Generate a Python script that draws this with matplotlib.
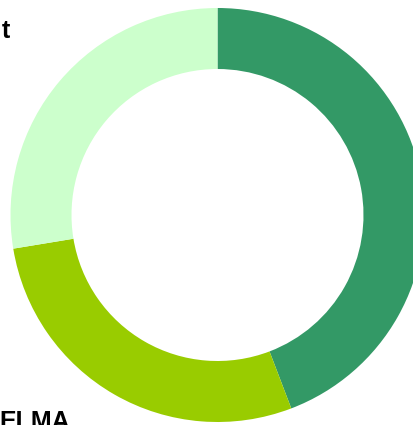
import matplotlib
matplotlib.use("Agg")
import matplotlib.pyplot as plt

labels = ["", "ELMA", "t"]
values = [44.2, 28.2, 27.6]
colors = ["#339966", "#99cc00", "#ccffcc"]

W, H = 414, 425
fig = plt.figure(figsize=(W / 100, H / 100), dpi=100)
ax = fig.add_axes([0, 0, 1, 1])

cx, cy = 217.5, H - 215
R_out, R_in = 207, 146
ax.pie(values, colors=colors, startangle=90, counterclock=False,
       radius=R_out, center=(cx, cy),
       wedgeprops=dict(width=R_out - R_in, linewidth=0), frame=True)
ax.set_xlim(0, W)
ax.set_ylim(0, H)
ax.set_aspect("equal")
ax.axis("off")

ax.text(10, H - 38, labels[2], ha="right", va="baseline", fontsize=18,
        fontweight="bold", family="Liberation Sans", color="black")
ax.text(-1, H - 429, labels[1], ha="left", va="baseline", fontsize=18,
        fontweight="bold", family="Liberation Sans", color="black")

fig.savefig("out.png", dpi=100)
